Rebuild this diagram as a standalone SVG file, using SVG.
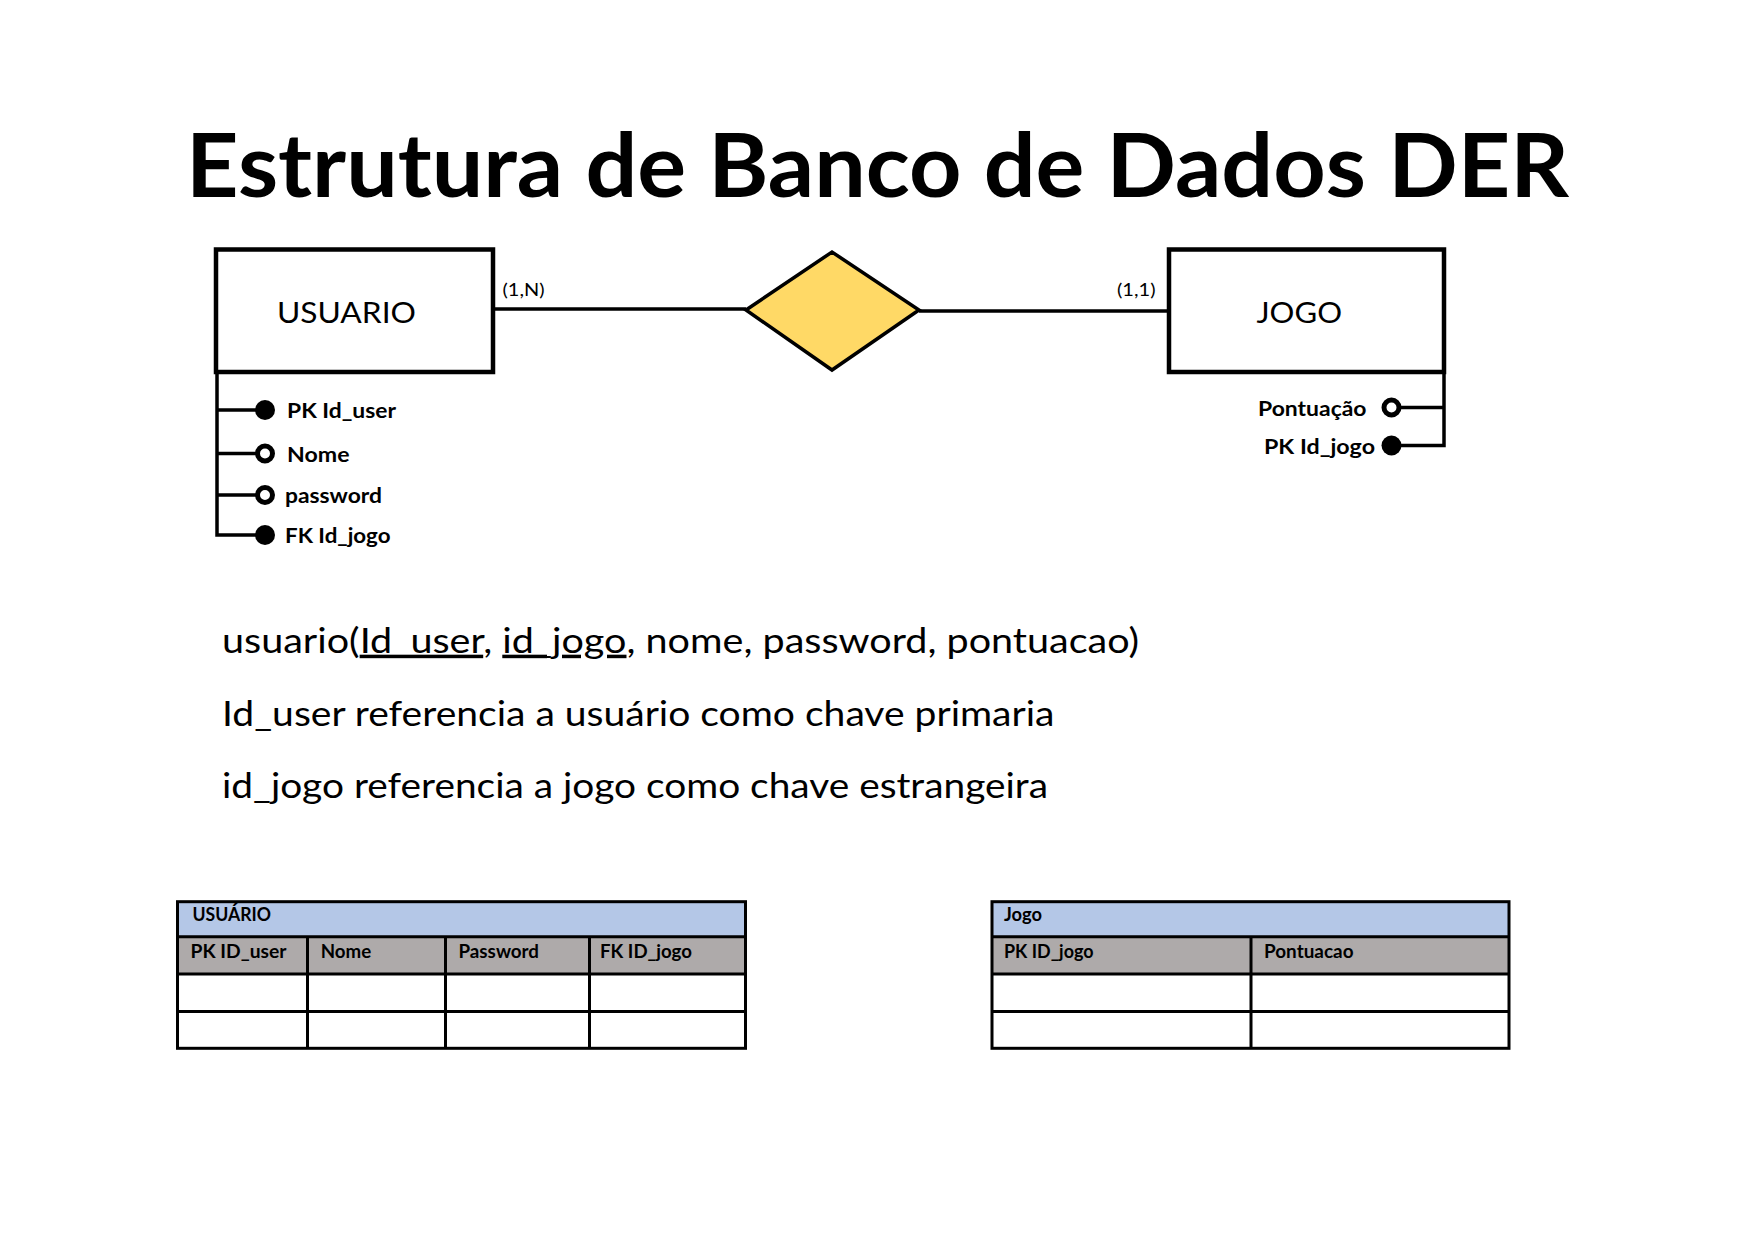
<svg xmlns="http://www.w3.org/2000/svg" width="1754" height="1240" viewBox="0 0 1754 1240">
<style>
text{font-family:Lato,"Open Sans","Liberation Sans",sans-serif;fill:#000}
.b{font-weight:700}
.ln{stroke:#000;stroke-width:3.5;fill:none}
.ent{fill:#fff;stroke:#000;stroke-width:4.5}
.pk{fill:#000}
.opt{fill:#fff;stroke:#000;stroke-width:5}
.attr{font-size:21px;font-weight:700}
.tb{stroke:#000;stroke-width:3;fill:none}
.th{font-size:18px;font-weight:700}
.body{font-size:35px}
</style>
<rect width="1754" height="1240" fill="#fff"/>
<text x="186" y="196.7" font-size="88" class="b" textLength="1383" lengthAdjust="spacingAndGlyphs">Estrutura de Banco de Dados DER</text>

<g id="connectors">
<path class="ln" d="M494,309 H746"/>
<path class="ln" d="M919,311 H1167"/>
<text x="502.5" y="296" font-size="18" textLength="42" lengthAdjust="spacingAndGlyphs">(1,N)</text>
<text x="1117" y="296" font-size="18" textLength="38.5" lengthAdjust="spacingAndGlyphs">(1,1)</text>
</g>

<g id="usuario">
<rect class="ent" x="216" y="249.5" width="277" height="122.5"/>
<text x="277" y="322.7" font-size="29" textLength="139" lengthAdjust="spacingAndGlyphs">USUARIO</text>
</g>

<g id="relacionamento">
<polygon points="746,310 832,252 919,310 832,370" fill="#FFD966" stroke="#000" stroke-width="3.5" stroke-linejoin="miter"/>
</g>

<g id="jogo">
<rect class="ent" x="1169" y="249.5" width="275" height="122.5"/>
<text x="1256.5" y="322.7" font-size="29" textLength="85.5" lengthAdjust="spacingAndGlyphs">JOGO</text>
</g>

<g id="usuario-atributos">
<path class="ln" d="M217,372 V535 H258 M217,410 H258 M217,453.5 H258 M217,495 H258"/>
<circle class="pk" cx="265" cy="410" r="10"/>
<circle class="opt" cx="265" cy="453.5" r="7.5"/>
<circle class="opt" cx="265" cy="495" r="7.5"/>
<circle class="pk" cx="265" cy="535" r="10"/>
<text class="attr" x="287" y="417.8" textLength="109" lengthAdjust="spacingAndGlyphs">PK Id_user</text>
<text class="attr" x="287" y="461.5" textLength="62.5" lengthAdjust="spacingAndGlyphs">Nome</text>
<text class="attr" x="285" y="502.5" textLength="97" lengthAdjust="spacingAndGlyphs">password</text>
<text class="attr" x="285" y="543" textLength="105.5" lengthAdjust="spacingAndGlyphs">FK Id_jogo</text>
</g>

<g id="jogo-atributos">
<path class="ln" d="M1444,372 V445.5 H1398 M1444,407.5 H1398"/>
<circle class="opt" cx="1391.5" cy="407.5" r="7.5"/>
<circle class="pk" cx="1391.5" cy="445.5" r="10"/>
<text class="attr" x="1258" y="416" textLength="108.5" lengthAdjust="spacingAndGlyphs">Pontuação</text>
<text class="attr" x="1264" y="454" textLength="111" lengthAdjust="spacingAndGlyphs">PK Id_jogo</text>
</g>

<g id="texto">
<text class="body" x="222" y="652.7" textLength="917" lengthAdjust="spacingAndGlyphs">usuario(<tspan text-decoration="underline">Id_user</tspan>, <tspan text-decoration="underline">id_jogo</tspan>, nome, password, pontuacao)</text>
<text class="body" x="222" y="725.5" textLength="832.5" lengthAdjust="spacingAndGlyphs">Id_user referencia a usuário como chave primaria</text>
<text class="body" x="222" y="798.3" textLength="826" lengthAdjust="spacingAndGlyphs">id_jogo referencia a jogo como chave estrangeira</text>
</g>

<g id="tabela-usuario">
<rect x="177.5" y="901.7" width="568" height="35" fill="#B4C7E7"/>
<rect x="177.5" y="936.7" width="568" height="37.3" fill="#AEAAAA"/>
<rect class="tb" x="177.5" y="901.7" width="568" height="146.6"/>
<path class="tb" d="M177.5,936.7 H745.5 M177.5,974 H745.5 M177.5,1011.5 H745.5 M307.5,936.7 V1048.3 M445.5,936.7 V1048.3 M589.5,936.7 V1048.3"/>
<text class="th" x="192.5" y="920.7" textLength="78.5" lengthAdjust="spacingAndGlyphs">USUÁRIO</text>
<text class="th" x="190.5" y="958.3" textLength="96" lengthAdjust="spacingAndGlyphs">PK ID_user</text>
<text class="th" x="320.7" y="958.3" textLength="50.5" lengthAdjust="spacingAndGlyphs">Nome</text>
<text class="th" x="458.5" y="958.3" textLength="80.5" lengthAdjust="spacingAndGlyphs">Password</text>
<text class="th" x="600" y="958.3" textLength="92" lengthAdjust="spacingAndGlyphs">FK ID_jogo</text>
</g>

<g id="tabela-jogo">
<rect x="992" y="901.7" width="517" height="35" fill="#B4C7E7"/>
<rect x="992" y="936.7" width="517" height="37.3" fill="#AEAAAA"/>
<rect class="tb" x="992" y="901.7" width="517" height="146.6"/>
<path class="tb" d="M992,936.7 H1509 M992,974 H1509 M992,1011.5 H1509 M1251,936.7 V1048.3"/>
<text class="th" x="1004" y="920.7" textLength="38" lengthAdjust="spacingAndGlyphs">Jogo</text>
<text class="th" x="1004" y="958.3" textLength="89.5" lengthAdjust="spacingAndGlyphs">PK ID_jogo</text>
<text class="th" x="1264" y="958.3" textLength="89.5" lengthAdjust="spacingAndGlyphs">Pontuacao</text>
</g>
</svg>
